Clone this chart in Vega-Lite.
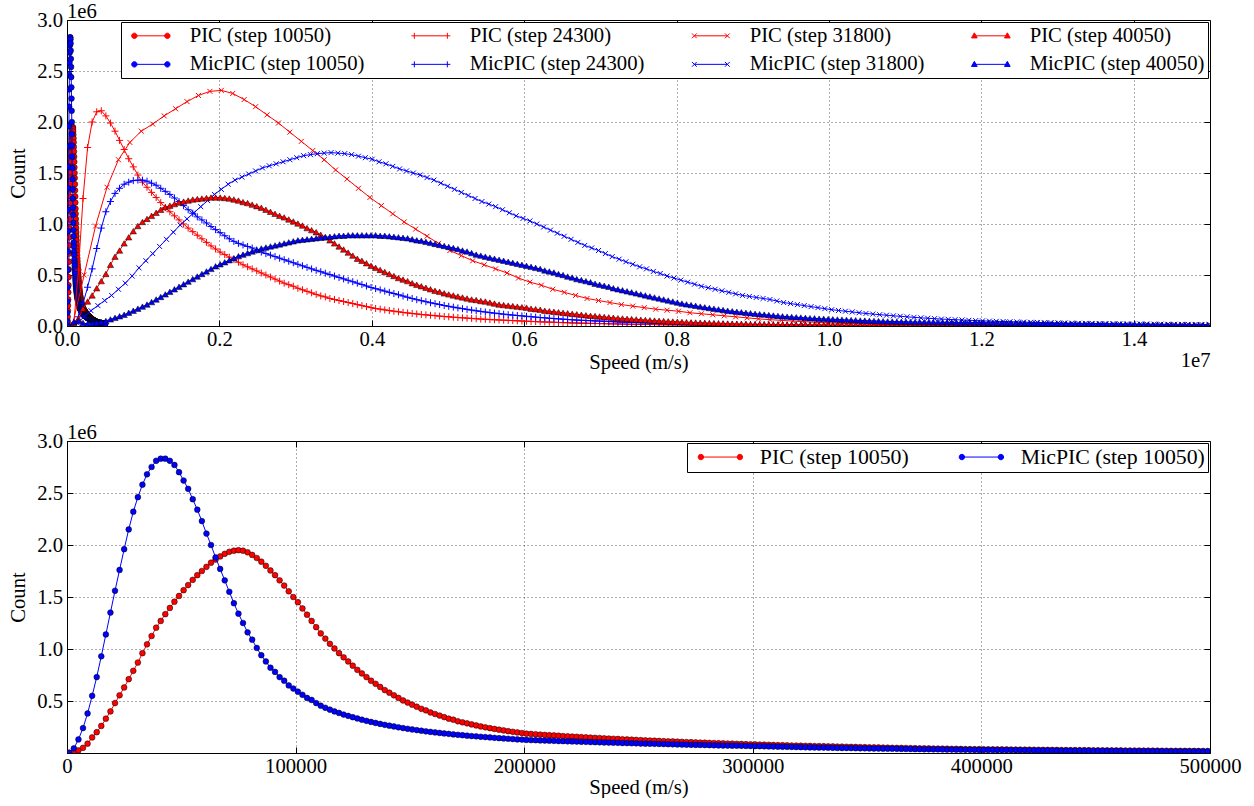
{
"$schema":"https://vega.github.io/schema/vega-lite/v6.json",
"background":"white",
"padding":{"left":7,"top":0,"right":0,"bottom":0},
"config":{
 "font":"Liberation Serif",
 "view":{"stroke":"black","strokeWidth":1},
 "axis":{"labelFont":"Liberation Serif","labelFontSize":20.7,"labelColor":"black","titleFont":"Liberation Serif","titleFontSize":20.7,"titleFontWeight":"normal","titleColor":"black","domainColor":"black","domainWidth":1,"tickColor":"black","tickSize":-6,"tickWidth":1,"grid":true,"gridColor":"black","gridDash":[1,3],"gridWidth":0.8,"gridOpacity":0.8,"labelFlush":false,"labelOverlap":false},
 "axisY":{"titlePadding":8,"labelPadding":10.5},
 "axisX":{"titlePadding":2,"labelPadding":9},
 "title":{"font":"Liberation Serif","fontSize":20.7,"fontWeight":"normal","color":"black","anchor":"start","frame":"group","offset":-14},
 "point":{"opacity":1}
},
"datasets":{
"low":[
{"v":1000,"p":4000,"m":0},{"v":3000,"p":12000,"m":45000},{"v":5000,"p":25000,"m":130000},{"v":7000,"p":50000,"m":240000},{"v":9000,"p":90000,"m":380000},{"v":11000,"p":150000,"m":550000},{"v":13000,"p":200000,"m":730000},{"v":15000,"p":260000,"m":930000},{"v":17000,"p":330000,"m":1140000},{"v":19000,"p":400000,"m":1350000},
{"v":21000,"p":480000,"m":1560000},{"v":23000,"p":555000,"m":1760000},{"v":25000,"p":630000,"m":1960000},{"v":27000,"p":710000,"m":2150000},{"v":29000,"p":790000,"m":2320000},{"v":31000,"p":870000,"m":2460000},{"v":33000,"p":960000,"m":2580000},{"v":35000,"p":1045000,"m":2680000},{"v":37000,"p":1125000,"m":2750000},{"v":39000,"p":1205000,"m":2810000},
{"v":41000,"p":1270000,"m":2830000},{"v":43000,"p":1335000,"m":2830000},{"v":45000,"p":1395000,"m":2810000},{"v":47000,"p":1455000,"m":2770000},{"v":49000,"p":1510000,"m":2700000},{"v":51000,"p":1565000,"m":2620000},{"v":53000,"p":1615000,"m":2540000},{"v":55000,"p":1665000,"m":2440000},{"v":57000,"p":1710000,"m":2340000},{"v":59000,"p":1750000,"m":2230000},
{"v":61000,"p":1790000,"m":2110000},{"v":63000,"p":1830000,"m":2000000},{"v":65000,"p":1860000,"m":1880000},{"v":67000,"p":1890000,"m":1770000},{"v":69000,"p":1915000,"m":1660000},{"v":71000,"p":1935000,"m":1550000},{"v":73000,"p":1945000,"m":1440000},{"v":75000,"p":1950000,"m":1340000},{"v":77000,"p":1945000,"m":1250000},{"v":79000,"p":1930000,"m":1160000},
{"v":81000,"p":1905000,"m":1090000},{"v":83000,"p":1875000,"m":1010000},{"v":85000,"p":1840000,"m":940000},{"v":87000,"p":1800000,"m":880000},{"v":89000,"p":1755000,"m":820000},{"v":91000,"p":1710000,"m":780000},{"v":93000,"p":1660000,"m":730000},{"v":95000,"p":1610000,"m":695000},{"v":97000,"p":1555000,"m":650000},{"v":99000,"p":1500000,"m":620000},
{"v":101000,"p":1450000,"m":590000},{"v":103000,"p":1390000,"m":560000},{"v":105000,"p":1330000,"m":530000},{"v":107000,"p":1270000,"m":510000},{"v":109000,"p":1210000,"m":480000},{"v":111000,"p":1150000,"m":455000},{"v":113000,"p":1100000,"m":435000},{"v":115000,"p":1050000,"m":417000},{"v":117000,"p":1005000,"m":400000},{"v":119000,"p":960000,"m":385000},
{"v":121000,"p":920000,"m":370000},{"v":123000,"p":880000,"m":357000},{"v":125000,"p":840000,"m":344000},{"v":127000,"p":800000,"m":332000},{"v":129000,"p":765000,"m":320000},{"v":131000,"p":730000,"m":309000},{"v":133000,"p":695000,"m":299000},{"v":135000,"p":665000,"m":289000},{"v":137000,"p":635000,"m":280000},{"v":139000,"p":605000,"m":271000},
{"v":141000,"p":580000,"m":263000},{"v":143000,"p":555000,"m":255000},{"v":145000,"p":530000,"m":247000},{"v":147000,"p":505000,"m":240000},{"v":149000,"p":485000,"m":233000},{"v":151000,"p":465000,"m":226000},{"v":153000,"p":445000,"m":220000},{"v":155000,"p":425000,"m":214000},{"v":157000,"p":410000,"m":208000},{"v":159000,"p":390000,"m":203000},
{"v":161000,"p":375000,"m":198000},{"v":163000,"p":360000,"m":193000},{"v":165000,"p":345000,"m":188000},{"v":167000,"p":330000,"m":184000},{"v":169000,"p":320000,"m":179000},{"v":171000,"p":305000,"m":175000},{"v":173000,"p":295000,"m":171000},{"v":175000,"p":285000,"m":167000},{"v":177000,"p":275000,"m":163000},{"v":179000,"p":265000,"m":160000},
{"v":181000,"p":255000,"m":156000},{"v":183000,"p":247000,"m":153000},{"v":185000,"p":239000,"m":150000},{"v":187000,"p":231000,"m":146000},{"v":189000,"p":224000,"m":143000},{"v":191000,"p":217000,"m":140000},{"v":193000,"p":210000,"m":137000},{"v":195000,"p":204000,"m":134000},{"v":197000,"p":198000,"m":131000},{"v":199000,"p":192000,"m":129000},
{"v":201000,"p":186000,"m":126000},{"v":203000,"p":183000,"m":124000},{"v":205000,"p":180000,"m":123000},{"v":207000,"p":177000,"m":121000},{"v":209000,"p":174000,"m":120000},{"v":211000,"p":171000,"m":118000},{"v":213000,"p":169000,"m":117000},{"v":215000,"p":166000,"m":115000},{"v":217000,"p":163000,"m":114000},{"v":219000,"p":161000,"m":112000},
{"v":221000,"p":158000,"m":111000},{"v":223000,"p":156000,"m":110000},{"v":225000,"p":153000,"m":108000},{"v":227000,"p":151000,"m":107000},{"v":229000,"p":148000,"m":105000},{"v":231000,"p":146000,"m":104000},{"v":233000,"p":144000,"m":103000},{"v":235000,"p":141000,"m":101000},{"v":237000,"p":139000,"m":100000},{"v":239000,"p":137000,"m":99000},
{"v":241000,"p":135000,"m":98000},{"v":243000,"p":132000,"m":96000},{"v":245000,"p":130000,"m":95000},{"v":247000,"p":128000,"m":94000},{"v":249000,"p":126000,"m":93000},{"v":251000,"p":124000,"m":91000},{"v":253000,"p":122000,"m":90000},{"v":255000,"p":120000,"m":89000},{"v":257000,"p":118000,"m":88000},{"v":259000,"p":116000,"m":87000},
{"v":261000,"p":114000,"m":86000},{"v":263000,"p":112000,"m":85000},{"v":265000,"p":111000,"m":84000},{"v":267000,"p":109000,"m":82000},{"v":269000,"p":107000,"m":81000},{"v":271000,"p":105000,"m":80000},{"v":273000,"p":104000,"m":79000},{"v":275000,"p":102000,"m":78000},{"v":277000,"p":100000,"m":77000},{"v":279000,"p":99000,"m":76000},
{"v":281000,"p":97000,"m":75000},{"v":283000,"p":96000,"m":74000},{"v":285000,"p":94000,"m":73000},{"v":287000,"p":93000,"m":72000},{"v":289000,"p":91000,"m":71000},{"v":291000,"p":90000,"m":70000},{"v":293000,"p":88000,"m":70000},{"v":295000,"p":87000,"m":69000},{"v":297000,"p":85000,"m":68000},{"v":299000,"p":84000,"m":67000},
{"v":301000,"p":83000,"m":66000},{"v":303000,"p":81000,"m":65000},{"v":305000,"p":80000,"m":64000},{"v":307000,"p":79000,"m":63000},{"v":309000,"p":77000,"m":62000},{"v":311000,"p":76000,"m":61000},{"v":313000,"p":75000,"m":60000},{"v":315000,"p":74000,"m":59000},{"v":317000,"p":72000,"m":58000},{"v":319000,"p":71000,"m":57000},
{"v":321000,"p":70000,"m":56000},{"v":323000,"p":69000,"m":55000},{"v":325000,"p":68000,"m":54000},{"v":327000,"p":67000,"m":53000},{"v":329000,"p":66000,"m":52000},{"v":331000,"p":65000,"m":52000},{"v":333000,"p":64000,"m":51000},{"v":335000,"p":63000,"m":50000},{"v":337000,"p":62000,"m":49000},{"v":339000,"p":61000,"m":48000},
{"v":341000,"p":60000,"m":48000},{"v":343000,"p":59000,"m":47000},{"v":345000,"p":58000,"m":46000},{"v":347000,"p":57000,"m":45000},{"v":349000,"p":56000,"m":45000},{"v":351000,"p":55000,"m":44000},{"v":353000,"p":54000,"m":43000},{"v":355000,"p":53000,"m":43000},{"v":357000,"p":52000,"m":42000},{"v":359000,"p":51000,"m":41000},
{"v":361000,"p":50000,"m":41000},{"v":363000,"p":49000,"m":40000},{"v":365000,"p":49000,"m":39000},{"v":367000,"p":48000,"m":39000},{"v":369000,"p":47000,"m":38000},{"v":371000,"p":46000,"m":37000},{"v":373000,"p":45000,"m":37000},{"v":375000,"p":45000,"m":36000},{"v":377000,"p":44000,"m":36000},{"v":379000,"p":43000,"m":35000},
{"v":381000,"p":42000,"m":35000},{"v":383000,"p":42000,"m":34000},{"v":385000,"p":41000,"m":33000},{"v":387000,"p":40000,"m":33000},{"v":389000,"p":40000,"m":32000},{"v":391000,"p":39000,"m":32000},{"v":393000,"p":38000,"m":31000},{"v":395000,"p":38000,"m":31000},{"v":397000,"p":37000,"m":30000},{"v":399000,"p":37000,"m":30000},
{"v":401000,"p":36000,"m":30000},{"v":403000,"p":35500,"m":29500},{"v":405000,"p":35000,"m":29000},{"v":407000,"p":34600,"m":28600},{"v":409000,"p":34000,"m":28200},{"v":411000,"p":33700,"m":27800},{"v":413000,"p":33300,"m":27400},{"v":415000,"p":32800,"m":27000},{"v":417000,"p":32400,"m":26600},{"v":419000,"p":32000,"m":26200},
{"v":421000,"p":31600,"m":25800},{"v":423000,"p":31200,"m":25400},{"v":425000,"p":30800,"m":25000},{"v":427000,"p":30400,"m":24600},{"v":429000,"p":30000,"m":24300},{"v":431000,"p":29600,"m":24000},{"v":433000,"p":29200,"m":23600},{"v":435000,"p":28800,"m":23300},{"v":437000,"p":28400,"m":23000},{"v":439000,"p":28000,"m":22600},
{"v":441000,"p":27700,"m":22300},{"v":443000,"p":27300,"m":22000},{"v":445000,"p":27000,"m":21700},{"v":447000,"p":26600,"m":21400},{"v":449000,"p":26300,"m":21100},{"v":451000,"p":26000,"m":20800},{"v":453000,"p":25600,"m":20500},{"v":455000,"p":25300,"m":20200},{"v":457000,"p":25000,"m":19900},{"v":459000,"p":24600,"m":19600},
{"v":461000,"p":24300,"m":19300},{"v":463000,"p":24000,"m":19000},{"v":465000,"p":23700,"m":18800},{"v":467000,"p":23400,"m":18500},{"v":469000,"p":23100,"m":18200},{"v":471000,"p":22800,"m":18000},{"v":473000,"p":22500,"m":17700},{"v":475000,"p":22200,"m":17500},{"v":477000,"p":21900,"m":17200},{"v":479000,"p":21600,"m":17000},
{"v":481000,"p":21300,"m":16700},{"v":483000,"p":21000,"m":16500},{"v":485000,"p":20800,"m":16300},{"v":487000,"p":20500,"m":16000},{"v":489000,"p":20200,"m":15800},{"v":491000,"p":20000,"m":15600},{"v":493000,"p":19700,"m":15400},{"v":495000,"p":19500,"m":15100},{"v":497000,"p":19200,"m":14900},{"v":499000,"p":19000,"m":14700}
],
"dense":[
{"v":30000,"p24":0,"m24":0,"p40":0,"m40":0},{"v":90000,"p24":30000,"m24":20000,"p40":30000,"m40":40000},{"v":150000,"p24":550000,"m24":90000,"p40":70000,"m40":50000},{"v":210000,"p24":1250000,"m24":220000,"p40":170000,"m40":30000},{"v":270000,"p24":1750000,"m24":380000,"p40":240000,"m40":20000},
{"v":330000,"p24":2000000,"m24":560000,"p40":300000,"m40":25000},{"v":390000,"p24":2100000,"m24":760000,"p40":370000,"m40":30000},{"v":450000,"p24":2110000,"m24":960000,"p40":440000,"m40":40000},{"v":510000,"p24":2060000,"m24":1120000,"p40":510000,"m40":50000},{"v":570000,"p24":1990000,"m24":1220000,"p40":600000,"m40":65000},
{"v":630000,"p24":1910000,"m24":1300000,"p40":680000,"m40":80000},{"v":690000,"p24":1820000,"m24":1350000,"p40":740000,"m40":95000},{"v":750000,"p24":1730000,"m24":1390000,"p40":810000,"m40":110000},{"v":810000,"p24":1640000,"m24":1410000,"p40":870000,"m40":130000},{"v":870000,"p24":1560000,"m24":1425000,"p40":930000,"m40":150000},
{"v":930000,"p24":1480000,"m24":1430000,"p40":980000,"m40":170000},{"v":990000,"p24":1410000,"m24":1430000,"p40":1020000,"m40":190000},{"v":1050000,"p24":1360000,"m24":1420000,"p40":1050000,"m40":210000},{"v":1110000,"p24":1310000,"m24":1400000,"p40":1080000,"m40":235000},{"v":1170000,"p24":1260000,"m24":1380000,"p40":1110000,"m40":260000},
{"v":1230000,"p24":1210000,"m24":1350000,"p40":1140000,"m40":285000},{"v":1290000,"p24":1160000,"m24":1320000,"p40":1165000,"m40":310000},{"v":1350000,"p24":1120000,"m24":1290000,"p40":1180000,"m40":335000},{"v":1410000,"p24":1080000,"m24":1255000,"p40":1195000,"m40":360000},{"v":1470000,"p24":1040000,"m24":1220000,"p40":1210000,"m40":385000},
{"v":1530000,"p24":1000000,"m24":1180000,"p40":1220000,"m40":410000},{"v":1590000,"p24":960000,"m24":1140000,"p40":1230000,"m40":435000},{"v":1650000,"p24":925000,"m24":1105000,"p40":1240000,"m40":460000},{"v":1710000,"p24":890000,"m24":1070000,"p40":1245000,"m40":485000},{"v":1770000,"p24":855000,"m24":1040000,"p40":1250000,"m40":510000},
{"v":1830000,"p24":820000,"m24":1010000,"p40":1255000,"m40":535000},{"v":1890000,"p24":785000,"m24":975000,"p40":1260000,"m40":560000},{"v":1950000,"p24":755000,"m24":945000,"p40":1260000,"m40":585000},{"v":2010000,"p24":725000,"m24":915000,"p40":1260000,"m40":605000},{"v":2070000,"p24":700000,"m24":885000,"p40":1255000,"m40":625000},
{"v":2130000,"p24":675000,"m24":855000,"p40":1250000,"m40":645000},{"v":2190000,"p24":650000,"m24":830000,"p40":1240000,"m40":665000},{"v":2250000,"p24":625000,"m24":810000,"p40":1230000,"m40":685000},{"v":2310000,"p24":600000,"m24":795000,"p40":1215000,"m40":700000},{"v":2370000,"p24":580000,"m24":780000,"p40":1205000,"m40":715000},
{"v":2430000,"p24":560000,"m24":765000,"p40":1190000,"m40":730000},{"v":2490000,"p24":540000,"m24":745000,"p40":1175000,"m40":745000},{"v":2550000,"p24":520000,"m24":725000,"p40":1160000,"m40":760000},{"v":2610000,"p24":500000,"m24":710000,"p40":1140000,"m40":770000},{"v":2670000,"p24":480000,"m24":695000,"p40":1120000,"m40":780000},
{"v":2730000,"p24":460000,"m24":680000,"p40":1100000,"m40":790000},{"v":2790000,"p24":440000,"m24":665000,"p40":1080000,"m40":800000},{"v":2850000,"p24":420000,"m24":650000,"p40":1065000,"m40":810000},{"v":2910000,"p24":405000,"m24":635000,"p40":1045000,"m40":820000},{"v":2970000,"p24":390000,"m24":620000,"p40":1025000,"m40":830000},
{"v":3030000,"p24":370000,"m24":605000,"p40":1005000,"m40":840000},{"v":3090000,"p24":355000,"m24":590000,"p40":985000,"m40":845000},{"v":3150000,"p24":340000,"m24":575000,"p40":960000,"m40":850000},{"v":3210000,"p24":325000,"m24":560000,"p40":940000,"m40":855000},{"v":3270000,"p24":310000,"m24":546000,"p40":920000,"m40":860000},
{"v":3330000,"p24":295000,"m24":532000,"p40":895000,"m40":865000},{"v":3390000,"p24":285000,"m24":518000,"p40":870000,"m40":870000},{"v":3450000,"p24":270000,"m24":504000,"p40":840000,"m40":875000},{"v":3510000,"p24":260000,"m24":490000,"p40":810000,"m40":880000},{"v":3570000,"p24":250000,"m24":476000,"p40":780000,"m40":885000},
{"v":3630000,"p24":240000,"m24":462000,"p40":750000,"m40":885000},{"v":3690000,"p24":230000,"m24":448000,"p40":720000,"m40":890000},{"v":3750000,"p24":220000,"m24":434000,"p40":690000,"m40":890000},{"v":3810000,"p24":210000,"m24":420000,"p40":660000,"m40":890000},{"v":3870000,"p24":200000,"m24":406000,"p40":640000,"m40":890000},
{"v":3930000,"p24":190000,"m24":392000,"p40":615000,"m40":890000},{"v":3990000,"p24":180000,"m24":378000,"p40":590000,"m40":890000},{"v":4050000,"p24":172000,"m24":366000,"p40":570000,"m40":890000},{"v":4110000,"p24":165000,"m24":354000,"p40":550000,"m40":885000},{"v":4170000,"p24":158000,"m24":342000,"p40":530000,"m40":885000},
{"v":4230000,"p24":151000,"m24":330000,"p40":510000,"m40":880000},{"v":4290000,"p24":145000,"m24":318000,"p40":490000,"m40":875000},{"v":4350000,"p24":139000,"m24":306000,"p40":470000,"m40":870000},{"v":4410000,"p24":133000,"m24":294000,"p40":455000,"m40":865000},{"v":4470000,"p24":128000,"m24":282000,"p40":440000,"m40":860000},
{"v":4530000,"p24":123000,"m24":270000,"p40":420000,"m40":850000},{"v":4590000,"p24":118000,"m24":258000,"p40":405000,"m40":840000},{"v":4650000,"p24":113000,"m24":248000,"p40":390000,"m40":835000},{"v":4710000,"p24":109000,"m24":238000,"p40":375000,"m40":825000},{"v":4770000,"p24":105000,"m24":228000,"p40":360000,"m40":815000},
{"v":4830000,"p24":101000,"m24":219000,"p40":345000,"m40":805000},{"v":4890000,"p24":97000,"m24":210000,"p40":335000,"m40":795000},{"v":4950000,"p24":93000,"m24":201000,"p40":320000,"m40":785000},{"v":5010000,"p24":90000,"m24":193000,"p40":310000,"m40":775000},{"v":5070000,"p24":86000,"m24":185000,"p40":300000,"m40":765000},
{"v":5130000,"p24":83000,"m24":177000,"p40":290000,"m40":755000},{"v":5190000,"p24":80000,"m24":170000,"p40":280000,"m40":740000},{"v":5250000,"p24":77000,"m24":163000,"p40":270000,"m40":730000},{"v":5310000,"p24":74000,"m24":156000,"p40":260000,"m40":715000},{"v":5370000,"p24":71000,"m24":149000,"p40":255000,"m40":700000},
{"v":5430000,"p24":68000,"m24":143000,"p40":245000,"m40":690000},{"v":5490000,"p24":66000,"m24":137000,"p40":240000,"m40":680000},{"v":5550000,"p24":63000,"m24":131000,"p40":230000,"m40":670000},{"v":5610000,"p24":61000,"m24":126000,"p40":220000,"m40":660000},{"v":5670000,"p24":59000,"m24":121000,"p40":210000,"m40":650000},
{"v":5730000,"p24":57000,"m24":116000,"p40":205000,"m40":640000},{"v":5790000,"p24":55000,"m24":111000,"p40":200000,"m40":630000},{"v":5850000,"p24":53000,"m24":107000,"p40":195000,"m40":620000},{"v":5910000,"p24":51000,"m24":103000,"p40":190000,"m40":610000},{"v":5970000,"p24":49000,"m24":99000,"p40":185000,"m40":600000},
{"v":6030000,"p24":47000,"m24":95000,"p40":180000,"m40":590000},{"v":6090000,"p24":45000,"m24":91000,"p40":170000,"m40":580000},{"v":6150000,"p24":43000,"m24":87000,"p40":165000,"m40":570000},{"v":6210000,"p24":41000,"m24":83000,"p40":160000,"m40":560000},{"v":6270000,"p24":39000,"m24":80000,"p40":150000,"m40":545000},
{"v":6330000,"p24":38000,"m24":76000,"p40":145000,"m40":535000},{"v":6390000,"p24":36000,"m24":73000,"p40":140000,"m40":525000},{"v":6450000,"p24":35000,"m24":70000,"p40":135000,"m40":510000},{"v":6510000,"p24":33000,"m24":67000,"p40":130000,"m40":500000},{"v":6570000,"p24":32000,"m24":64000,"p40":125000,"m40":485000},
{"v":6630000,"p24":30000,"m24":61000,"p40":120000,"m40":475000},{"v":6690000,"p24":29000,"m24":58000,"p40":115000,"m40":460000},{"v":6750000,"p24":28000,"m24":56000,"p40":110000,"m40":450000},{"v":6810000,"p24":27000,"m24":54000,"p40":105000,"m40":440000},{"v":6870000,"p24":26000,"m24":52000,"p40":100000,"m40":430000},
{"v":6930000,"p24":25000,"m24":50000,"p40":97000,"m40":415000},{"v":6990000,"p24":24000,"m24":48000,"p40":93000,"m40":405000},{"v":7050000,"p24":23000,"m24":46000,"p40":89000,"m40":395000},{"v":7110000,"p24":22000,"m24":44000,"p40":85000,"m40":385000},{"v":7170000,"p24":21000,"m24":42000,"p40":81000,"m40":370000},
{"v":7230000,"p24":20000,"m24":40000,"p40":77000,"m40":360000},{"v":7290000,"p24":19000,"m24":38000,"p40":74000,"m40":350000},{"v":7350000,"p24":18000,"m24":37000,"p40":71000,"m40":340000},{"v":7410000,"p24":17000,"m24":35000,"p40":68000,"m40":330000},{"v":7470000,"p24":16500,"m24":34000,"p40":65000,"m40":320000},
{"v":7530000,"p24":16000,"m24":32000,"p40":62000,"m40":310000},{"v":7590000,"p24":15000,"m24":31000,"p40":59000,"m40":300000},{"v":7650000,"p24":14500,"m24":30000,"p40":56000,"m40":290000},{"v":7710000,"p24":14000,"m24":28000,"p40":53000,"m40":280000},{"v":7770000,"p24":13000,"m24":27000,"p40":51000,"m40":270000},
{"v":7830000,"p24":12500,"m24":26000,"p40":48000,"m40":260000},{"v":7890000,"p24":12000,"m24":25000,"p40":46000,"m40":250000},{"v":7950000,"p24":11500,"m24":24000,"p40":44000,"m40":240000},{"v":8010000,"p24":11000,"m24":23000,"p40":42000,"m40":230000},{"v":8070000,"p24":10500,"m24":22000,"p40":40000,"m40":220000},
{"v":8130000,"p24":10000,"m24":21000,"p40":38000,"m40":212000},{"v":8190000,"p24":9500,"m24":20000,"p40":36000,"m40":205000},{"v":8250000,"p24":9000,"m24":19000,"p40":34000,"m40":198000},{"v":8310000,"p24":8500,"m24":18000,"p40":33000,"m40":190000},{"v":8370000,"p24":8000,"m24":18000,"p40":31000,"m40":183000},
{"v":8430000,"p24":8000,"m24":17000,"p40":30000,"m40":176000},{"v":8490000,"p24":7500,"m24":16000,"p40":28000,"m40":170000},{"v":8550000,"p24":7000,"m24":16000,"p40":27000,"m40":163000},{"v":8610000,"p24":7000,"m24":15000,"p40":26000,"m40":157000},{"v":8670000,"p24":6500,"m24":14000,"p40":24000,"m40":150000},
{"v":8730000,"p24":6000,"m24":14000,"p40":23000,"m40":145000},{"v":8790000,"p24":6000,"m24":13000,"p40":22000,"m40":140000},{"v":8850000,"p24":5500,"m24":13000,"p40":21000,"m40":135000},{"v":8910000,"p24":5500,"m24":12000,"p40":20000,"m40":130000},{"v":8970000,"p24":5000,"m24":12000,"p40":19000,"m40":125000},
{"v":9030000,"p24":5000,"m24":11000,"p40":18000,"m40":120000},{"v":9090000,"p24":4000,"m24":11000,"p40":18000,"m40":116000},{"v":9150000,"p24":4000,"m24":10000,"p40":17000,"m40":112000},{"v":9210000,"p24":4000,"m24":10000,"p40":16000,"m40":107000},{"v":9270000,"p24":4000,"m24":10000,"p40":15000,"m40":103000},
{"v":9330000,"p24":4000,"m24":9000,"p40":15000,"m40":99000},{"v":9390000,"p24":4000,"m24":9000,"p40":14000,"m40":95000},{"v":9450000,"p24":3000,"m24":9000,"p40":14000,"m40":92000},{"v":9510000,"p24":3000,"m24":8000,"p40":13000,"m40":89000},{"v":9570000,"p24":3000,"m24":8000,"p40":13000,"m40":86000},
{"v":9630000,"p24":3000,"m24":8000,"p40":12000,"m40":83000},{"v":9690000,"p24":3000,"m24":7000,"p40":12000,"m40":80000},{"v":9750000,"p24":3000,"m24":7000,"p40":11000,"m40":77000},{"v":9810000,"p24":3000,"m24":7000,"p40":11000,"m40":75000},{"v":9870000,"p24":3000,"m24":7000,"p40":10000,"m40":72000},
{"v":9930000,"p24":3000,"m24":6000,"p40":10000,"m40":70000},{"v":9990000,"p24":2000,"m24":6000,"p40":10000,"m40":68000},{"v":10050000,"p24":2000,"m24":6000,"p40":9000,"m40":66000},{"v":10110000,"p24":2000,"m24":6000,"p40":9000,"m40":64000},{"v":10170000,"p24":2000,"m24":5000,"p40":9000,"m40":62000},
{"v":10230000,"p24":2000,"m24":5000,"p40":8000,"m40":60000},{"v":10290000,"p24":2000,"m24":5000,"p40":8000,"m40":58000},{"v":10350000,"p24":2000,"m24":5000,"p40":8000,"m40":56000},{"v":10410000,"p24":2000,"m24":5000,"p40":8000,"m40":54000},{"v":10470000,"p24":2000,"m24":4000,"p40":7000,"m40":53000},
{"v":10530000,"p24":2000,"m24":4000,"p40":7000,"m40":51000},{"v":10590000,"p24":2000,"m24":4000,"p40":7000,"m40":50000},{"v":10650000,"p24":2000,"m24":4000,"p40":7000,"m40":48000},{"v":10710000,"p24":2000,"m24":4000,"p40":6000,"m40":47000},{"v":10770000,"p24":2000,"m24":4000,"p40":6000,"m40":45000},
{"v":10830000,"p24":1000,"m24":4000,"p40":6000,"m40":44000},{"v":10890000,"p24":1000,"m24":3000,"p40":6000,"m40":43000},{"v":10950000,"p24":1000,"m24":3000,"p40":6000,"m40":42000},{"v":11010000,"p24":1000,"m24":3000,"p40":5000,"m40":41000},{"v":11070000,"p24":1000,"m24":3000,"p40":5000,"m40":40000},
{"v":11130000,"p24":1000,"m24":3000,"p40":5000,"m40":39000},{"v":11190000,"p24":1000,"m24":3000,"p40":5000,"m40":39000},{"v":11250000,"p24":1000,"m24":3000,"p40":5000,"m40":38000},{"v":11310000,"p24":1000,"m24":3000,"p40":5000,"m40":38000},{"v":11370000,"p24":1000,"m24":3000,"p40":5000,"m40":37000},
{"v":11430000,"p24":1000,"m24":2000,"p40":4000,"m40":37000},{"v":11490000,"p24":1000,"m24":2000,"p40":4000,"m40":36000},{"v":11550000,"p24":1000,"m24":2000,"p40":4000,"m40":36000},{"v":11610000,"p24":1000,"m24":2000,"p40":4000,"m40":36000},{"v":11670000,"p24":1000,"m24":2000,"p40":4000,"m40":35000},
{"v":11730000,"p24":1000,"m24":2000,"p40":4000,"m40":35000},{"v":11790000,"p24":1000,"m24":2000,"p40":4000,"m40":35000},{"v":11850000,"p24":1000,"m24":2000,"p40":4000,"m40":35000},{"v":11910000,"p24":1000,"m24":2000,"p40":4000,"m40":34000},{"v":11970000,"p24":1000,"m24":2000,"p40":4000,"m40":34000},
{"v":12030000,"p24":1000,"m24":2000,"p40":3000,"m40":33000},{"v":12090000,"p24":1000,"m24":2000,"p40":3000,"m40":32500},{"v":12150000,"p24":1000,"m24":2000,"p40":3000,"m40":32000},{"v":12210000,"p24":1000,"m24":2000,"p40":3000,"m40":31500},{"v":12270000,"p24":1000,"m24":2000,"p40":3000,"m40":31000},
{"v":12330000,"p24":1000,"m24":2000,"p40":3000,"m40":30500},{"v":12390000,"p24":1000,"m24":2000,"p40":3000,"m40":30000},{"v":12450000,"p24":1000,"m24":2000,"p40":3000,"m40":29000},{"v":12510000,"p24":1000,"m24":2000,"p40":3000,"m40":29000},{"v":12570000,"p24":1000,"m24":2000,"p40":3000,"m40":28000},
{"v":12630000,"p24":1000,"m24":2000,"p40":3000,"m40":28000},{"v":12690000,"p24":1000,"m24":2000,"p40":3000,"m40":27000},{"v":12750000,"p24":1000,"m24":2000,"p40":3000,"m40":27000},{"v":12810000,"p24":1000,"m24":2000,"p40":3000,"m40":26000},{"v":12870000,"p24":1000,"m24":2000,"p40":3000,"m40":26000},
{"v":12930000,"p24":1000,"m24":2000,"p40":3000,"m40":25000},{"v":12990000,"p24":1000,"m24":2000,"p40":3000,"m40":25000},{"v":13050000,"p24":1000,"m24":2000,"p40":3000,"m40":24000},{"v":13110000,"p24":1000,"m24":2000,"p40":3000,"m40":24000},{"v":13170000,"p24":1000,"m24":2000,"p40":3000,"m40":23000},
{"v":13230000,"p24":1000,"m24":2000,"p40":3000,"m40":23000},{"v":13290000,"p24":500,"m24":2000,"p40":3000,"m40":22000},{"v":13350000,"p24":500,"m24":2000,"p40":3000,"m40":21000},{"v":13410000,"p24":500,"m24":2000,"p40":3000,"m40":21000},{"v":13470000,"p24":500,"m24":2000,"p40":3000,"m40":20000},
{"v":13530000,"p24":500,"m24":2000,"p40":3000,"m40":20000},{"v":13590000,"p24":500,"m24":1000,"p40":2000,"m40":19000},{"v":13650000,"p24":500,"m24":1000,"p40":2000,"m40":19000},{"v":13710000,"p24":500,"m24":1000,"p40":2000,"m40":18000},{"v":13770000,"p24":500,"m24":1000,"p40":2000,"m40":18000},
{"v":13830000,"p24":500,"m24":1000,"p40":2000,"m40":17000},{"v":13890000,"p24":500,"m24":1000,"p40":2000,"m40":17000},{"v":13950000,"p24":500,"m24":1000,"p40":2000,"m40":16000},{"v":14010000,"p24":500,"m24":1000,"p40":2000,"m40":16000},{"v":14070000,"p24":500,"m24":1000,"p40":2000,"m40":15000},
{"v":14130000,"p24":500,"m24":1000,"p40":2000,"m40":15000},{"v":14190000,"p24":500,"m24":1000,"p40":2000,"m40":14000},{"v":14250000,"p24":500,"m24":1000,"p40":2000,"m40":13000},{"v":14310000,"p24":500,"m24":1000,"p40":2000,"m40":13000},{"v":14370000,"p24":500,"m24":1000,"p40":2000,"m40":12000},
{"v":14430000,"p24":500,"m24":1000,"p40":2000,"m40":12000},{"v":14490000,"p24":500,"m24":1000,"p40":2000,"m40":11000},{"v":14550000,"p24":500,"m24":1000,"p40":2000,"m40":11000},{"v":14610000,"p24":500,"m24":1000,"p40":2000,"m40":10000},{"v":14670000,"p24":500,"m24":1000,"p40":2000,"m40":10000},
{"v":14730000,"p24":500,"m24":1000,"p40":2000,"m40":9000},{"v":14790000,"p24":500,"m24":1000,"p40":2000,"m40":9000},{"v":14850000,"p24":500,"m24":1000,"p40":2000,"m40":8000},{"v":14910000,"p24":500,"m24":1000,"p40":2000,"m40":8000},{"v":14970000,"p24":500,"m24":1000,"p40":2000,"m40":7000}
],
"p31":[
{"v":75000,"count":20000},{"v":225000,"count":500000},{"v":375000,"count":980000},{"v":525000,"count":1360000},{"v":675000,"count":1630000},{"v":825000,"count":1800000},{"v":975000,"count":1910000},{"v":1125000,"count":1980000},{"v":1275000,"count":2060000},{"v":1425000,"count":2130000},
{"v":1575000,"count":2200000},{"v":1725000,"count":2260000},{"v":1875000,"count":2300000},{"v":2025000,"count":2310000},{"v":2175000,"count":2280000},{"v":2325000,"count":2220000},{"v":2475000,"count":2150000},{"v":2625000,"count":2070000},{"v":2775000,"count":1990000},{"v":2925000,"count":1900000},
{"v":3075000,"count":1810000},{"v":3225000,"count":1720000},{"v":3375000,"count":1630000},{"v":3525000,"count":1530000},{"v":3675000,"count":1440000},{"v":3825000,"count":1350000},{"v":3975000,"count":1260000},{"v":4125000,"count":1180000},{"v":4275000,"count":1100000},{"v":4425000,"count":1020000},
{"v":4575000,"count":950000},{"v":4725000,"count":880000},{"v":4875000,"count":810000},{"v":5025000,"count":740000},{"v":5175000,"count":690000},{"v":5325000,"count":640000},{"v":5475000,"count":600000},{"v":5625000,"count":560000},{"v":5775000,"count":520000},{"v":5925000,"count":470000},
{"v":6075000,"count":430000},{"v":6225000,"count":400000},{"v":6375000,"count":360000},{"v":6525000,"count":330000},{"v":6675000,"count":300000},{"v":6825000,"count":270000},{"v":6975000,"count":250000},{"v":7125000,"count":230000},{"v":7275000,"count":210000},{"v":7425000,"count":195000},
{"v":7575000,"count":180000},{"v":7725000,"count":165000},{"v":7875000,"count":155000},{"v":8025000,"count":145000},{"v":8175000,"count":130000},{"v":8325000,"count":120000},{"v":8475000,"count":110000},{"v":8625000,"count":100000},{"v":8775000,"count":90000},{"v":8925000,"count":80000},
{"v":9075000,"count":70000},{"v":9225000,"count":62000},{"v":9375000,"count":55000},{"v":9525000,"count":48000},{"v":9675000,"count":42000},{"v":9825000,"count":36000},{"v":9975000,"count":31000},{"v":10125000,"count":27000},{"v":10275000,"count":23000},{"v":10425000,"count":20000},
{"v":10575000,"count":17000},{"v":10725000,"count":14000},{"v":10875000,"count":12000},{"v":11025000,"count":10000},{"v":11175000,"count":8000},{"v":11325000,"count":7000},{"v":11475000,"count":6000},{"v":11625000,"count":5000},{"v":11775000,"count":4000},{"v":11925000,"count":3000},
{"v":12075000,"count":3000},{"v":12225000,"count":2000},{"v":12375000,"count":2000},{"v":12525000,"count":2000},{"v":12675000,"count":2000},{"v":12825000,"count":2000},{"v":12975000,"count":2000},{"v":13125000,"count":1000},{"v":13275000,"count":1000},{"v":13425000,"count":1000},
{"v":13575000,"count":1000},{"v":13725000,"count":1000},{"v":13875000,"count":1000},{"v":14025000,"count":1000},{"v":14175000,"count":1000},{"v":14325000,"count":1000},{"v":14475000,"count":1000},{"v":14625000,"count":1000},{"v":14775000,"count":1000},{"v":14925000,"count":1000}
],
"m31":[
{"v":45000,"count":0},{"v":135000,"count":30000},{"v":225000,"count":90000},{"v":315000,"count":150000},{"v":405000,"count":200000},{"v":495000,"count":250000},{"v":585000,"count":300000},{"v":675000,"count":360000},{"v":765000,"count":420000},{"v":855000,"count":490000},
{"v":945000,"count":570000},{"v":1035000,"count":640000},{"v":1125000,"count":710000},{"v":1215000,"count":780000},{"v":1305000,"count":850000},{"v":1395000,"count":920000},{"v":1485000,"count":990000},{"v":1575000,"count":1050000},{"v":1665000,"count":1110000},{"v":1755000,"count":1170000},
{"v":1845000,"count":1230000},{"v":1935000,"count":1290000},{"v":2025000,"count":1340000},{"v":2115000,"count":1390000},{"v":2205000,"count":1430000},{"v":2295000,"count":1460000},{"v":2385000,"count":1490000},{"v":2475000,"count":1520000},{"v":2565000,"count":1550000},{"v":2655000,"count":1570000},
{"v":2745000,"count":1590000},{"v":2835000,"count":1610000},{"v":2925000,"count":1630000},{"v":3015000,"count":1650000},{"v":3105000,"count":1670000},{"v":3195000,"count":1680000},{"v":3285000,"count":1690000},{"v":3375000,"count":1695000},{"v":3465000,"count":1700000},{"v":3555000,"count":1695000},
{"v":3645000,"count":1690000},{"v":3735000,"count":1680000},{"v":3825000,"count":1665000},{"v":3915000,"count":1650000},{"v":4005000,"count":1635000},{"v":4095000,"count":1610000},{"v":4185000,"count":1590000},{"v":4275000,"count":1565000},{"v":4365000,"count":1540000},{"v":4455000,"count":1520000},
{"v":4545000,"count":1500000},{"v":4635000,"count":1480000},{"v":4725000,"count":1455000},{"v":4815000,"count":1430000},{"v":4905000,"count":1400000},{"v":4995000,"count":1370000},{"v":5085000,"count":1340000},{"v":5175000,"count":1310000},{"v":5265000,"count":1280000},{"v":5355000,"count":1250000},
{"v":5445000,"count":1220000},{"v":5535000,"count":1195000},{"v":5625000,"count":1170000},{"v":5715000,"count":1140000},{"v":5805000,"count":1110000},{"v":5895000,"count":1080000},{"v":5985000,"count":1055000},{"v":6075000,"count":1030000},{"v":6165000,"count":1000000},{"v":6255000,"count":970000},
{"v":6345000,"count":940000},{"v":6435000,"count":910000},{"v":6525000,"count":880000},{"v":6615000,"count":850000},{"v":6705000,"count":820000},{"v":6795000,"count":790000},{"v":6885000,"count":765000},{"v":6975000,"count":740000},{"v":7065000,"count":710000},{"v":7155000,"count":680000},
{"v":7245000,"count":655000},{"v":7335000,"count":630000},{"v":7425000,"count":605000},{"v":7515000,"count":580000},{"v":7605000,"count":560000},{"v":7695000,"count":535000},{"v":7785000,"count":515000},{"v":7875000,"count":490000},{"v":7965000,"count":470000},{"v":8055000,"count":450000},
{"v":8145000,"count":430000},{"v":8235000,"count":410000},{"v":8325000,"count":390000},{"v":8415000,"count":375000},{"v":8505000,"count":360000},{"v":8595000,"count":345000},{"v":8685000,"count":330000},{"v":8775000,"count":315000},{"v":8865000,"count":300000},{"v":8955000,"count":290000},
{"v":9045000,"count":280000},{"v":9135000,"count":270000},{"v":9225000,"count":260000},{"v":9315000,"count":245000},{"v":9405000,"count":230000},{"v":9495000,"count":220000},{"v":9585000,"count":210000},{"v":9675000,"count":200000},{"v":9765000,"count":190000},{"v":9855000,"count":180000},
{"v":9945000,"count":170000},{"v":10035000,"count":160000},{"v":10125000,"count":152000},{"v":10215000,"count":145000},{"v":10305000,"count":138000},{"v":10395000,"count":130000},{"v":10485000,"count":123000},{"v":10575000,"count":117000},{"v":10665000,"count":111000},{"v":10755000,"count":106000},
{"v":10845000,"count":100000},{"v":10935000,"count":95000},{"v":11025000,"count":90000},{"v":11115000,"count":85000},{"v":11205000,"count":80000},{"v":11295000,"count":76000},{"v":11385000,"count":72000},{"v":11475000,"count":68000},{"v":11565000,"count":65000},{"v":11655000,"count":62000},
{"v":11745000,"count":59000},{"v":11835000,"count":56000},{"v":11925000,"count":53000},{"v":12015000,"count":50000},{"v":12105000,"count":48000},{"v":12195000,"count":46000},{"v":12285000,"count":44000},{"v":12375000,"count":42000},{"v":12465000,"count":40000},{"v":12555000,"count":38000},
{"v":12645000,"count":36000},{"v":12735000,"count":35000},{"v":12825000,"count":33000},{"v":12915000,"count":32000},{"v":13005000,"count":30000},{"v":13095000,"count":29000},{"v":13185000,"count":28000},{"v":13275000,"count":27000},{"v":13365000,"count":26000},{"v":13455000,"count":25000},
{"v":13545000,"count":24000},{"v":13635000,"count":23000},{"v":13725000,"count":22000},{"v":13815000,"count":21000},{"v":13905000,"count":20000},{"v":13995000,"count":20000},{"v":14085000,"count":19000},{"v":14175000,"count":19000},{"v":14265000,"count":18000},{"v":14355000,"count":18000},
{"v":14445000,"count":17000},{"v":14535000,"count":17000},{"v":14625000,"count":16000},{"v":14715000,"count":16000},{"v":14805000,"count":15000},{"v":14895000,"count":15000},{"v":14985000,"count":15000}
]
},
"bounds":"flush",
"spacing":115,
"resolve":{"scale":{"shape":"independent","fill":"independent","stroke":"independent"},"legend":{"shape":"independent","fill":"independent","stroke":"independent"}},
"vconcat":[
{
 "width":1143,"height":306,
 "title":{"text":"1e6"},
 "resolve":{"axis":{"x":"independent","y":"independent"}},
 "layer":[
 {
 "encoding":{
  "x":{"field":"v","type":"quantitative","scale":{"domain":[0,15000000],"nice":false,"zero":false},"axis":{"title":"Speed (m/s)","titleY":26,"titleBaseline":"top","values":[0,2000000,4000000,6000000,8000000,10000000,12000000,14000000,15000000],"labelExpr":"datum.value == 15000000 ? ['', '1e7'] : format(datum.value/1e7,'.1f')","labelAlign":{"condition":{"test":"datum.value == 15000000","value":"right"},"value":"center"},"labelLineHeight":21}},
  "y":{"field":"count","type":"quantitative","scale":{"domain":[0,3000000],"nice":false},"axis":{"title":"Count","values":[0,500000,1000000,1500000,2000000,2500000,3000000],"labelExpr":"format(datum.value/1e6,'.1f')"}}
 },
 "layer":[
  {"data":{"values":[{"series":"PIC (step 10050)"}]},"transform":[{"filter":"false"}],
   "mark":{"type":"point","filled":true,"opacity":1},
   "encoding":{
    "shape":{"field":"series","type":"nominal","scale":{"domain":["PIC (step 10050)","MicPIC (step 10050)","PIC (step 24300)","MicPIC (step 24300)","PIC (step 31800)","MicPIC (step 31800)","PIC (step 40050)","MicPIC (step 40050)"],"range":["M-0.9,0A0.9,0.9,0,1,1,0.9,0A0.9,0.9,0,1,1,-0.9,0ZM10.1,0A0.9,0.9,0,1,1,11.9,0A0.9,0.9,0,1,1,10.1,0ZM0,0L11,0","M-0.9,0A0.9,0.9,0,1,1,0.9,0A0.9,0.9,0,1,1,-0.9,0ZM10.1,0A0.9,0.9,0,1,1,11.9,0A0.9,0.9,0,1,1,10.1,0ZM0,0L11,0","M-1,0L12,0M0,-1L0,1M11,-1L11,1","M-1,0L12,0M0,-1L0,1M11,-1L11,1","M0,0L11,0M-0.8,-0.8L0.8,0.8M-0.8,0.8L0.8,-0.8M10.2,-0.8L11.8,0.8M10.2,0.8L11.8,-0.8","M0,0L11,0M-0.8,-0.8L0.8,0.8M-0.8,0.8L0.8,-0.8M10.2,-0.8L11.8,0.8M10.2,0.8L11.8,-0.8","M0,-1L0.95,0.7L-0.95,0.7ZM11,-1L11.95,0.7L10.05,0.7ZM0,0L11,0","M0,-1L0.95,0.7L-0.95,0.7ZM11,-1L11.95,0.7L10.05,0.7ZM0,0L11,0"]},
     "legend":{"title":null,"orient":"top-right","offset":2,"columns":4,"gridAlign":"all","columnPadding":39,"rowPadding":7,"padding":3,"strokeColor":"black","fillColor":"white","cornerRadius":0,"symbolSize":36,"symbolStrokeWidth":1,"symbolOpacity":1,"labelFont":"Liberation Serif","labelFontSize":20.7,"labelColor":"black","labelOffset":45,"labelLimit":0}},
    "fill":{"field":"series","type":"nominal","scale":{"domain":["PIC (step 10050)","MicPIC (step 10050)","PIC (step 24300)","MicPIC (step 24300)","PIC (step 31800)","MicPIC (step 31800)","PIC (step 40050)","MicPIC (step 40050)"],"range":["#ff0000","#0000ff","#ff0000","#0000ff","#ff0000","#0000ff","#ff0000","#0000ff"]}},
    "stroke":{"field":"series","type":"nominal","scale":{"domain":["PIC (step 10050)","MicPIC (step 10050)","PIC (step 24300)","MicPIC (step 24300)","PIC (step 31800)","MicPIC (step 31800)","PIC (step 40050)","MicPIC (step 40050)"],"range":["#ff0000","#0000ff","#ff0000","#0000ff","#ff0000","#0000ff","#ff0000","#0000ff"]}}
   }},
  {"data":{"name":"low"},"transform":[{"fold":["p"],"as":["series","count"]}],"layer":[
   {"mark":{"type":"line","color":"#ff0000","strokeWidth":1,"clip":true},"encoding":{}},
   {"mark":{"type":"point","shape":"circle","filled":true,"fill":"#ff0000","stroke":"black","strokeWidth":0.5,"size":33,"opacity":1,"clip":true},"encoding":{}}]},
  {"data":{"name":"low"},"transform":[{"fold":["m"],"as":["series","count"]}],"layer":[
   {"mark":{"type":"line","color":"#0000ff","strokeWidth":1,"clip":true},"encoding":{}},
   {"mark":{"type":"point","shape":"circle","filled":true,"fill":"#0000ff","stroke":"black","strokeWidth":0.5,"size":33,"opacity":1,"clip":true},"encoding":{}}]},
  {"data":{"name":"dense"},"transform":[{"fold":["p24"],"as":["series","count"]}],"layer":[
   {"mark":{"type":"line","color":"#ff0000","strokeWidth":1,"clip":true},"encoding":{}},
   {"mark":{"type":"point","shape":"M-1,0L1,0M0,-1L0,1","filled":false,"color":"#ff0000","strokeWidth":1,"size":49,"opacity":1,"clip":true},"encoding":{}}]},
  {"data":{"name":"dense"},"transform":[{"fold":["m24"],"as":["series","count"]}],"layer":[
   {"mark":{"type":"line","color":"#0000ff","strokeWidth":1,"clip":true},"encoding":{}},
   {"mark":{"type":"point","shape":"M-1,0L1,0M0,-1L0,1","filled":false,"color":"#0000ff","strokeWidth":1,"size":49,"opacity":1,"clip":true},"encoding":{}}]},
  {"data":{"name":"p31"},"layer":[
   {"mark":{"type":"line","color":"#ff0000","strokeWidth":1,"clip":true},"encoding":{}},
   {"mark":{"type":"point","shape":"M-1,-1L1,1M-1,1L1,-1","filled":false,"color":"#ff0000","strokeWidth":1,"size":25,"opacity":1,"clip":true},"encoding":{}}]},
  {"data":{"name":"m31"},"layer":[
   {"mark":{"type":"line","color":"#0000ff","strokeWidth":1,"clip":true},"encoding":{}},
   {"mark":{"type":"point","shape":"M-1,-1L1,1M-1,1L1,-1","filled":false,"color":"#0000ff","strokeWidth":1,"size":25,"opacity":1,"clip":true},"encoding":{}}]},
  {"data":{"name":"dense"},"transform":[{"fold":["p40"],"as":["series","count"]}],"layer":[
   {"mark":{"type":"line","color":"#ff0000","strokeWidth":1,"clip":true},"encoding":{}},
   {"mark":{"type":"point","shape":"triangle-up","filled":true,"fill":"#ff0000","stroke":"black","strokeWidth":0.5,"size":40,"opacity":1,"clip":true},"encoding":{}}]},
  {"data":{"name":"dense"},"transform":[{"fold":["m40"],"as":["series","count"]}],"layer":[
   {"mark":{"type":"line","color":"#0000ff","strokeWidth":1,"clip":true},"encoding":{}},
   {"mark":{"type":"point","shape":"triangle-up","filled":true,"fill":"#0000ff","stroke":"black","strokeWidth":0.5,"size":40,"opacity":1,"clip":true},"encoding":{}}]}
 ]
 },
 {"data":{"name":"p31"},"transform":[{"filter":"false"}],
  "mark":{"type":"point","opacity":0},
  "encoding":{
   "x":{"field":"v","type":"quantitative","scale":{"domain":[0,15000000],"nice":false,"zero":false},"axis":{"orient":"top","labels":false,"title":null,"grid":false,"domain":false,"values":[2000000,4000000,6000000,8000000,10000000,12000000,14000000]}},
   "y":{"field":"count","type":"quantitative","scale":{"domain":[0,3000000],"nice":false},"axis":{"orient":"right","labels":false,"title":null,"grid":false,"domain":false,"values":[500000,1000000,1500000,2000000,2500000]}}
  }}
 ]
},
{
 "width":1143,"height":312,
 "title":{"text":"1e6"},
 "resolve":{"axis":{"x":"independent","y":"independent"}},
 "layer":[
 {
 "encoding":{
  "x":{"field":"v","type":"quantitative","scale":{"domain":[0,500000],"nice":false,"zero":false},"axis":{"title":"Speed (m/s)","values":[0,100000,200000,300000,400000,500000],"format":"d"}},
  "y":{"field":"count","type":"quantitative","scale":{"domain":[0,3000000],"nice":false},"axis":{"title":"Count","values":[0,500000,1000000,1500000,2000000,2500000,3000000],"labelExpr":"datum.value == 0 ? '' : format(datum.value/1e6,'.1f')"}}
 },
 "layer":[
  {"data":{"values":[{"series":"PIC (step 10050)"}]},"transform":[{"filter":"false"}],
   "mark":{"type":"point","filled":true,"opacity":1},
   "encoding":{
    "shape":{"field":"series","type":"nominal","scale":{"domain":["PIC (step 10050)","MicPIC (step 10050)"],"range":["M-0.9,0A0.9,0.9,0,1,1,0.9,0A0.9,0.9,0,1,1,-0.9,0ZM12.1,0A0.9,0.9,0,1,1,13.9,0A0.9,0.9,0,1,1,12.1,0ZM0,0L13,0","M-0.9,0A0.9,0.9,0,1,1,0.9,0A0.9,0.9,0,1,1,-0.9,0ZM12.1,0A0.9,0.9,0,1,1,13.9,0A0.9,0.9,0,1,1,12.1,0ZM0,0L13,0"]},
     "legend":{"title":null,"orient":"top-right","offset":2,"columns":2,"gridAlign":"each","columnPadding":42,"rowPadding":7,"padding":3,"strokeColor":"black","fillColor":"white","cornerRadius":0,"symbolSize":36,"symbolStrokeWidth":1,"symbolOpacity":1,"labelFont":"Liberation Serif","labelFontSize":21.8,"labelColor":"black","labelOffset":48,"labelLimit":0}},
    "fill":{"field":"series","type":"nominal","scale":{"domain":["PIC (step 10050)","MicPIC (step 10050)"],"range":["#ff0000","#0000ff"]}},
    "stroke":{"field":"series","type":"nominal","scale":{"domain":["PIC (step 10050)","MicPIC (step 10050)"],"range":["#ff0000","#0000ff"]}}
   }},
  {"data":{"name":"low"},"transform":[{"fold":["p"],"as":["series","count"]}],"layer":[
   {"mark":{"type":"line","color":"#ff0000","strokeWidth":1,"clip":true},"encoding":{}},
   {"mark":{"type":"point","shape":"circle","filled":true,"fill":"#ff0000","stroke":"black","strokeWidth":0.5,"size":33,"opacity":1,"clip":true},"encoding":{}}]},
  {"data":{"name":"low"},"transform":[{"fold":["m"],"as":["series","count"]}],"layer":[
   {"mark":{"type":"line","color":"#0000ff","strokeWidth":1,"clip":true},"encoding":{}},
   {"mark":{"type":"point","shape":"circle","filled":true,"fill":"#0000ff","stroke":"black","strokeWidth":0.5,"size":33,"opacity":1,"clip":true},"encoding":{}}]}
 ]
 },
 {"data":{"name":"p31"},"transform":[{"filter":"false"}],
  "mark":{"type":"point","opacity":0},
  "encoding":{
   "x":{"field":"v","type":"quantitative","scale":{"domain":[0,500000],"nice":false,"zero":false},"axis":{"orient":"top","labels":false,"title":null,"grid":false,"domain":false,"values":[100000,200000,300000,400000]}},
   "y":{"field":"count","type":"quantitative","scale":{"domain":[0,3000000],"nice":false},"axis":{"orient":"right","labels":false,"title":null,"grid":false,"domain":false,"values":[500000,1000000,1500000,2000000,2500000]}}
  }}
 ]
}
]
}
